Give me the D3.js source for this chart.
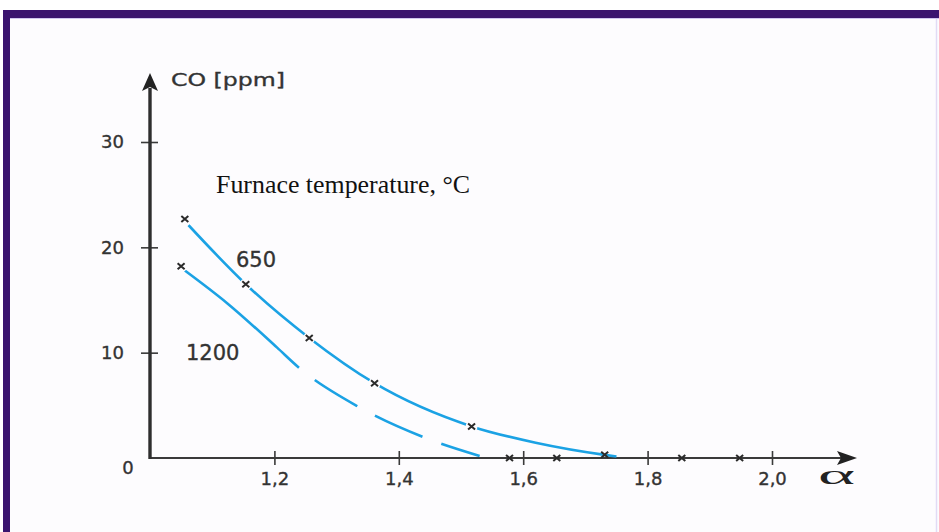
<!DOCTYPE html>
<html>
<head>
<meta charset="utf-8">
<script src="https://cdn.jsdelivr.net/npm/d3@7"></script>
<style>
  html, body { margin: 0; padding: 0; background: #ffffff; }
  svg { display: block; }
</style>
</head>
<body>
<svg id="chart" width="939" height="532"></svg>
<script>
// ---- data ----
const xTickValues = [1.2, 1.4, 1.6, 1.8, 2.0];
const xTickLabels = ["1,2", "1,4", "1,6", "1,8", "2,0"];
const yTickValues = [10, 20, 30];
const yTickLabels = ["10", "20", "30"];

// 650 °C – measured points (markers)
const alpha650 = [1.056, 1.154, 1.256, 1.361, 1.517, 1.731];
const co650    = [22.7, 16.5, 11.4, 7.1, 3.0, 0.3];
// 650 °C – drawn curve
const curveAlpha650 = [1.062, 1.154, 1.256, 1.361, 1.517, 1.62, 1.731, 1.75];
const curveCo650    = [22.1, 16.5, 11.4, 7.1, 3.0, 1.45, 0.3, 0.15];

// 1200 °C – measured point
const alpha1200 = [1.050];
const co1200    = [18.2];
// 1200 °C – drawn (dashed) curve
const curveAlpha1200 = [1.056, 1.124, 1.204, 1.239, 1.334, 1.439, 1.530];
const curveCo1200    = [17.8, 14.7, 10.5, 8.6, 4.9, 2.0, 0.2];

// extra measured points lying on the α axis (CO ≈ 0)
const alphaZero = [1.578, 1.654, 1.855, 1.948];
const coZero    = [0, 0, 0, 0];

const seriesLabels = ["650", "1200"];
const legendTitle = "Furnace temperature, °C";
const yAxisTitle = "CO [ppm]";
const xAxisTitle = "α";

// ---- drawing ----
const svg = d3.select("#chart");
const W = 939, H = 532;
const bg = "#fdfcfe";

svg.append("rect").attr("width", W).attr("height", H).attr("fill", "#ffffff");
svg.append("rect").attr("x", 10).attr("y", 18).attr("width", W - 10).attr("height", H - 18).attr("fill", bg);
// purple frame
svg.append("rect").attr("x", 3).attr("y", 10).attr("width", W - 3).attr("height", 8).attr("fill", "#3a146e");
svg.append("rect").attr("x", 3).attr("y", 10).attr("width", 7).attr("height", H - 10).attr("fill", "#3a146e");
svg.append("line").attr("x1", 936.5).attr("x2", 936.5).attr("y1", 18).attr("y2", H)
  .attr("stroke", "#e2dbf5").attr("stroke-width", 1.5);
svg.append("line").attr("x1", 10).attr("x2", W).attr("y1", 18.5).attr("y2", 18.5)
  .attr("stroke", "#cfc6ee").attr("stroke-width", 1);

const x = d3.scaleLinear().domain([1.0, 2.0]).range([150, 772]);
const y = d3.scaleLinear().domain([0, 30]).range([458, 142]);

const axisColor = "#3a3a3a";
const labelColor = "#333333";
const sans = "'DejaVu Sans', Verdana, sans-serif";

function styleLabel(sel, size) {
  sel.attr("fill", labelColor).attr("stroke", labelColor).attr("stroke-width", 0.35)
    .style("font-family", sans).style("font-size", size + "px");
}

// X axis
const xAxis = d3.axisBottom(x)
  .tickValues(xTickValues)
  .tickFormat((d, i) => xTickLabels[i])
  .tickSizeInner(7)
  .tickSizeOuter(0)
  .tickPadding(7);
const gx = svg.append("g").attr("transform", `translate(0,${y(0)})`).call(xAxis);
gx.select(".domain").remove();
gx.selectAll(".tick line").attr("y1", -7).attr("y2", 7).attr("stroke", axisColor).attr("stroke-width", 1.6);
styleLabel(gx.selectAll(".tick text"), 18);
svg.append("line").attr("x1", x(1.0)).attr("x2", 845).attr("y1", y(0)).attr("y2", y(0))
  .attr("stroke", axisColor).attr("stroke-width", 2.2);
svg.append("path").attr("d", `M857,${y(0)} L837,${y(0) - 7} L841,${y(0)} L837,${y(0) + 7} Z`).attr("fill", "#222");

// Y axis
const yAxis = d3.axisLeft(y)
  .tickValues(yTickValues)
  .tickFormat((d, i) => yTickLabels[i])
  .tickSizeInner(8)
  .tickSizeOuter(0)
  .tickPadding(18);
const gy = svg.append("g").attr("transform", `translate(${x(1.0)},0)`).call(yAxis);
gy.select(".domain").remove();
gy.selectAll(".tick line").attr("x1", 8).attr("x2", -9).attr("stroke", axisColor).attr("stroke-width", 1.6);
styleLabel(gy.selectAll(".tick text"), 18);
svg.append("line").attr("x1", x(1.0)).attr("x2", x(1.0)).attr("y1", y(0) + 1).attr("y2", 88)
  .attr("stroke", "#2e2e2e").attr("stroke-width", 3.4);
svg.append("path").attr("d", `M${x(1.0)},73 L${x(1.0) - 8},91 L${x(1.0)},87 L${x(1.0) + 8},91 Z`).attr("fill", "#222");

// origin label
styleLabel(svg.append("text").attr("x", 128).attr("y", 474).attr("text-anchor", "middle").text("0"), 18);

// axis titles
styleLabel(svg.append("text").attr("x", 171).attr("y", 86)
  .attr("textLength", 114).attr("lengthAdjust", "spacingAndGlyphs").text(yAxisTitle), 18);
svg.append("text").attr("x", 818).attr("y", 484)
  .attr("fill", "#222").style("font-family", "'Liberation Serif', serif").style("font-size", "27px")
  .attr("textLength", 37).attr("lengthAdjust", "spacingAndGlyphs").text(xAxisTitle);

// legend title (serif)
svg.append("text").attr("x", 216).attr("y", 193)
  .attr("fill", "#111").style("font-family", "'Liberation Serif', 'Times New Roman', serif").style("font-size", "26px")
  .attr("textLength", 254).attr("lengthAdjust", "spacingAndGlyphs").text(legendTitle);

// curves
const curveColor = "#1ba2e4";
const line = d3.line().x(d => x(d[0])).y(d => y(d[1])).curve(d3.curveMonotoneX);

const pts650 = curveAlpha650.map((a, i) => [a, curveCo650[i]]);
svg.append("path").attr("d", line(pts650)).attr("fill", "none")
  .attr("stroke", curveColor).attr("stroke-width", 2.6);

const pts1200 = curveAlpha1200.map((a, i) => [a, curveCo1200[i]]);
svg.append("path").attr("d", line(pts1200)).attr("fill", "none")
  .attr("stroke", curveColor).attr("stroke-width", 2.6)
  .attr("stroke-dasharray", "150,20,50,20,52,20,60");

// markers
const markers = []
  .concat(alpha650.map((a, i) => [a, co650[i]]))
  .concat(alpha1200.map((a, i) => [a, co1200[i]]))
  .concat(alphaZero.map((a, i) => [a, coZero[i]]));

const mk = svg.append("g");
markers.forEach(d => {
  const cx = x(d[0]), cy = y(d[1]);
  if (d[1] > 1) {
    mk.append("circle").attr("cx", cx).attr("cy", cy).attr("r", 6).attr("fill", bg);
  }
  mk.append("path")
    .attr("d", `M${cx - 3.5},${cy - 3} L${cx + 3.5},${cy + 3} M${cx - 3.5},${cy + 3} L${cx + 3.5},${cy - 3}`)
    .attr("stroke", "#2a2a2a").attr("stroke-width", 2);
});

// series labels
styleLabel(svg.append("text").attr("x", 236).attr("y", 267).text(seriesLabels[0]), 21);
styleLabel(svg.append("text").attr("x", 186).attr("y", 360).text(seriesLabels[1]), 21);
</script>
</body>
</html>
